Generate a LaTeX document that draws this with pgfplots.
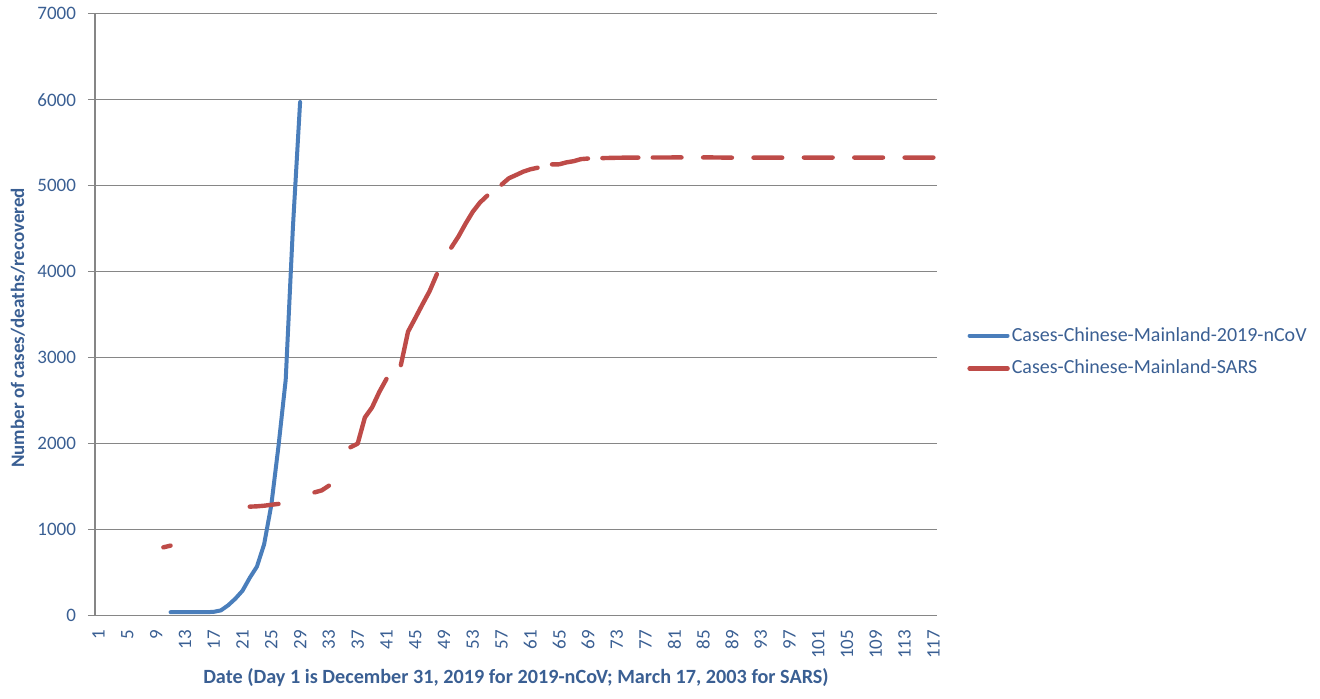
\documentclass[border=0pt]{standalone}
\usepackage{fontspec}
\setmainfont{Carlito}
\usepackage{pgfplots}
\pgfplotsset{compat=1.18}
\definecolor{ncov}{HTML}{4A7EBB}
\definecolor{sars}{HTML}{BE4B48}
\definecolor{gridgray}{HTML}{868686}
\definecolor{txt}{HTML}{3A5F93}

\begin{document}
\begin{tikzpicture}
\useasboundingbox (0,0) rectangle (660pt,349pt);
\begin{axis}[
    at={(47.5pt,41.15pt)}, anchor=south west,
    scale only axis, width=421pt, height=301pt,
    xmin=0.5, xmax=117.5, ymin=0, ymax=7000,
    axis lines*=left,
    axis line style={gridgray, line width=0.7pt},
    ymajorgrids,
    grid style={gridgray, line width=0.7pt},
    xtick={1,5,...,117},
    ytick={0,1000,...,7000},
    x tick style={draw=none},
    y tick style={gridgray, line width=0.7pt},
    tick align=outside, major tick length=3.5pt,
    tick label style={font=\fontsize{9.5}{11}\selectfont, text=txt},
    /pgf/number format/assume math mode=true,
    /pgf/number format/1000 sep={},
    xticklabel style={rotate=90, anchor=east},
    yticklabel style={xshift=-2.5pt},
    every axis x label/.style={at={(axis description cs:0.5,-0.1035)}, anchor=center,
        font=\fontsize{10.1}{12}\selectfont\bfseries, text=txt},
    every axis y label/.style={at={(axis description cs:-0.0915,0.478)}, rotate=90, anchor=center,
        font=\fontsize{9.5}{11}\selectfont\bfseries, text=txt},
    xlabel={Date (Day 1 is December 31, 2019 for 2019-nCoV; March 17, 2003 for SARS)},
    ylabel={Number of cases/deaths/recovered},
    unbounded coords=jump,
    legend cell align=left,
    legend style={draw=none, fill=none, at={(1.0356,0.438)}, anchor=west,
        font=\fontsize{10}{12}\selectfont, text=txt, row sep=6pt, inner sep=0pt,
        nodes={inner sep=1pt}},
    legend image code/.code={\draw[#1] (0pt,0pt) -- (19pt,0pt);},
]
\addplot[ncov, line width=2pt, line cap=round, line join=round] table {
11 41
12 41
13 41
14 41
15 41
16 41
17 45
18 62
19 121
20 198
21 291
22 440
23 571
24 830
25 1287
26 1975
27 2744
28 4515
29 5974
};
\addlegendentry{Cases-Chinese-Mainland-2019-nCoV}

\addplot[sars, line width=2.2pt, line cap=round, line join=round] table {
10 795
11 815
12 nan
22 1268
23 1272
24 1279
25 1290
26 1300
27 nan
31 1434
32 1457
33 1512
34 nan
36 1959
37 2001
38 2305
39 2422
40 2601
41 2753
42 nan
43 2914
44 3303
45 3460
46 3620
47 3775
48 3971
49 nan
50 4280
51 4409
52 4560
53 4698
54 4805
55 4884
56 nan
57 5013
58 5086
59 5124
60 5163
61 5191
62 5209
63 nan
64 5248
65 5249
66 5271
67 5285
68 5309
69 5316
70 nan
71 5321
72 5323
73 5325
74 5326
75 5326
76 5327
77 nan
78 5328
79 5328
80 5328
81 5329
82 5329
83 nan
85 5329
86 5329
87 5328
88 5327
89 5326
90 nan
92 5326
93 5326
94 5326
95 5326
96 5326
97 nan
99 5327
100 5327
101 5327
102 5327
103 5327
104 nan
106 5327
107 5327
108 5327
109 5327
110 5327
111 nan
113 5327
114 5327
115 5327
116 5327
117 5327
};
\addlegendentry{Cases-Chinese-Mainland-SARS}
\end{axis}
\end{tikzpicture}
\end{document}
